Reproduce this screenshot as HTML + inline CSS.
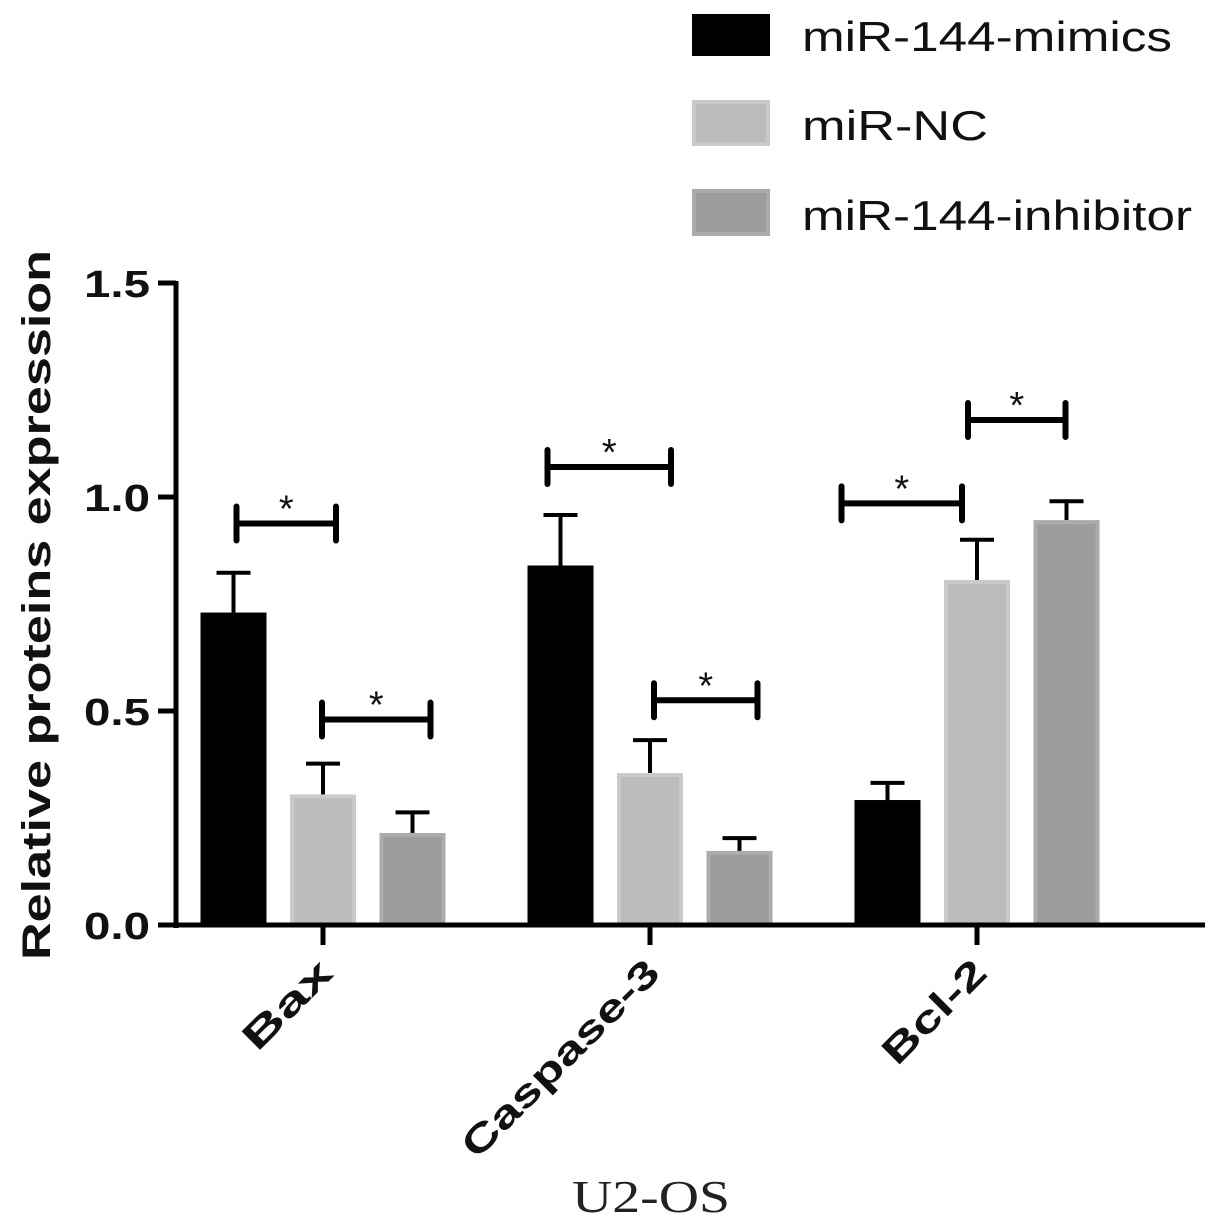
<!DOCTYPE html>
<html><head><meta charset="utf-8"><style>
body{margin:0;background:#fff}
svg{display:block}
text{font-family:"Liberation Sans",Arial,sans-serif}
</style></head><body>
<svg id="chart" width="1205" height="1228" viewBox="0 0 1205 1228" xmlns="http://www.w3.org/2000/svg">
<g id="legend">
 <g><rect x="692" y="14" width="78" height="42" fill="#000"/><text x="802" y="51" font-size="42" textLength="370" lengthAdjust="spacingAndGlyphs" fill="#111">miR-144-mimics</text></g>
 <g><rect x="694" y="102" width="74" height="42" fill="#bcbcbc" stroke="#cacaca" stroke-width="4"/><text x="802" y="140" font-size="42" textLength="186" lengthAdjust="spacingAndGlyphs" fill="#111">miR-NC</text></g>
 <g><rect x="694" y="191" width="74" height="43" fill="#9c9c9c" stroke="#ababab" stroke-width="4"/><text x="802" y="230" font-size="42" textLength="390" lengthAdjust="spacingAndGlyphs" fill="#111">miR-144-inhibitor</text></g>
</g>
<g id="plot"></g>
<text transform="translate(50,605) rotate(-90)" text-anchor="middle" font-size="40" font-weight="bold" textLength="710" lengthAdjust="spacingAndGlyphs" fill="#111">Relative  proteins expression</text>
<text x="651" y="1212" text-anchor="middle" font-size="46" textLength="158" lengthAdjust="spacingAndGlyphs" fill="#222" style="font-family:'Liberation Serif',serif">U2-OS</text>
</svg>
<script>
const categories=["Bax","Caspase-3","Bcl-2"];
const seriesNames=["miR-144-mimics","miR-NC","miR-144-inhibitor"];
const mimics=[0.73,0.84,0.292];
const nc=[0.305,0.355,0.806];
const inhibitor=[0.215,0.173,0.946];
const mimicsErr=[0.823,0.958,0.332];
const ncErr=[0.377,0.432,0.9];
const inhibitorErr=[0.263,0.203,0.99];
const yTicks=[0,0.5,1.0,1.5];
const yTickLabels=["0.0","0.5","1.0","1.5"];
// significance: [category, fromSeries, toSeries, level]
const sigCat=[0,0,1,1,2,2];
const sigFrom=[0,1,0,1,0,1];
const sigTo=[1,2,1,2,1,2];
const sigLevel=[0.938,0.48,1.07,0.525,0.985,1.18];

const NS="http://www.w3.org/2000/svg";
const g=document.getElementById('plot');
const y0=925,pxPer=428,axX=176;
const yS=v=>y0-v*pxPer;
const catX=i=>323+i*327;
const step=89.5,bw=66;
const barCx=(c,s)=>catX(c)+(s-1)*step;
const offL=[3,-1,-13,4,-46,-9],offR=[13,18,21,18,-15,-1];
function el(t,a){const e=document.createElementNS(NS,t);for(const k in a)e.setAttribute(k,a[k]);g.appendChild(e);return e;}
const vals=[mimics,nc,inhibitor],errs=[mimicsErr,ncErr,inhibitorErr];
const fills=["#000","#bcbcbc","#9c9c9c"],strokes=["#000","#cacaca","#ababab"];
for(let s=0;s<3;s++)for(let c=0;c<3;c++){
 const cx=barCx(c,s),top=yS(vals[s][c]),et=yS(errs[s][c]);
 const l=el('line',{x1:cx,x2:cx,y1:top,y2:et,stroke:'#000','stroke-width':4});
 
 
 const cap=el('line',{x1:cx-17,x2:cx+17,y1:et,y2:et,stroke:'#000','stroke-width':4});
 
 
 const r=el('rect',{x:cx-bw/2+2,y:top+2,width:bw-4,height:y0-top-2,fill:fills[s],stroke:strokes[s],'stroke-width':4});
 
 
}
const ya=el('line',{x1:axX,x2:axX,y1:yS(1.5)-2,y2:y0+3,stroke:'#000','stroke-width':5});


const xa=el('line',{x1:axX-2,x2:1205,y1:y0,y2:y0,stroke:'#000','stroke-width':5});


yTicks.forEach((v,i)=>{
 const t=el('line',{x1:axX-18,x2:axX,y1:yS(v),y2:yS(v),stroke:'#000','stroke-width':5});
 
 
 const tx=el('text',{x:axX-26,y:yS(v)+14,'text-anchor':'end','font-size':38,'font-weight':'bold',textLength:66,lengthAdjust:'spacingAndGlyphs',fill:'#111'});
 tx.textContent=yTickLabels[i];
 
 
});
const catLen=[110,262,130];
categories.forEach((c,i)=>{
 const x=catX(i);
 const t=el('line',{x1:x,x2:x,y1:y0,y2:y0+20,stroke:'#000','stroke-width':5});
 
 
 const tx=el('text',{transform:`translate(${x+12},${y0+50}) rotate(-45)`,'text-anchor':'end','font-size':38,'font-weight':'bold',textLength:catLen[i],lengthAdjust:'spacingAndGlyphs',fill:'#111'});
 tx.textContent=c;
 
 
});
sigCat.forEach((c,i)=>{
 const xa1=barCx(c,sigFrom[i])+offL[i], xb=barCx(c,sigTo[i])+offR[i];
 const yy=yS(sigLevel[i]);
 const p=el('path',{d:`M${xa1},${yy-17}V${yy+17}M${xa1},${yy}H${xb}M${xb},${yy-17}V${yy+17}`,stroke:'#000','stroke-width':6,fill:'none','stroke-linecap':'round'});
 
 
 const s=el('text',{x:(xa1+xb)/2,y:yy-2,'text-anchor':'middle','font-size':38,fill:'#111'});
 s.textContent='*';
 
 
});
</script>
</body></html>
